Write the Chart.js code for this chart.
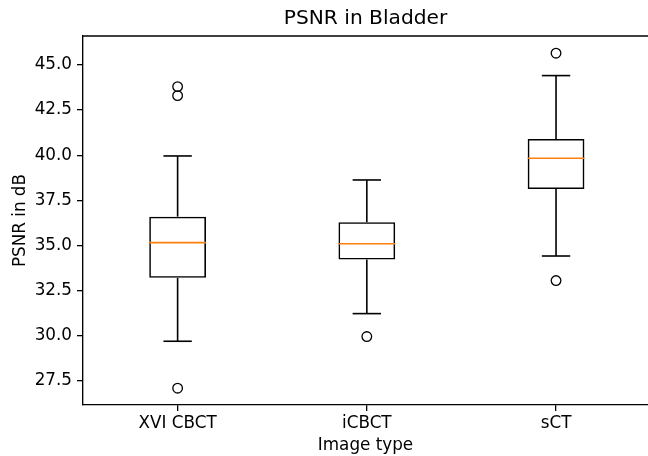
<!DOCTYPE html>
<html lang="en">
<head>
<meta charset="UTF-8" />
<title>PSNR in Bladder</title>
<script src="https://cdn.jsdelivr.net/npm/chart.js@4"></script>
<style>
  body { margin: 0; background: #fff; }
  #wrap { width: 648px; height: 456px; }
</style>
</head>
<body>
<div id="wrap"><canvas id="psnrChart" width="648" height="456"></canvas></div>
<script>
  // box plot summary (dB)
  const categories = ['XVI CBCT', 'iCBCT', 'sCT'];
  const positions = [1, 2, 3];
  const whiskerLow = [29.70, 31.23, 34.42];
  const q1 = [33.21, 34.22, 38.13];
  const median = [35.16, 35.10, 39.83];
  const q3 = [36.60, 36.29, 40.90];
  const whiskerHigh = [39.96, 38.63, 44.41];
  const outlierPos = [1, 1, 1, 2, 3, 3];
  const outlierVal = [43.80, 43.30, 27.10, 29.96, 45.65, 33.06];
  const yTicks = [27.5, 30, 32.5, 35, 37.5, 40, 42.5, 45];

  const font = 'DejaVu Sans';
  const lw = 1.6;

  // whiskers, caps, medians and the top spine
  const boxParts = {
    id: 'boxParts',
    afterDatasetsDraw(chart) {
      const { ctx, chartArea, scales: { x, y } } = chart;
      const bars = chart.getDatasetMeta(0).data;
      const seg = (x1, y1, x2, y2) => {
        ctx.beginPath(); ctx.moveTo(x1, y1); ctx.lineTo(x2, y2); ctx.stroke();
      };
      ctx.save();
      ctx.lineWidth = lw;
      ctx.strokeStyle = '#000';
      positions.forEach((p, i) => {
        const cx = x.getPixelForValue(p);
        const half = bars[i].width / 2;
        const cap = half / 2;
        const yLo = y.getPixelForValue(whiskerLow[i]);
        const yHi = y.getPixelForValue(whiskerHigh[i]);
        seg(cx, y.getPixelForValue(q1[i]), cx, yLo);
        seg(cx, y.getPixelForValue(q3[i]), cx, yHi);
        seg(cx - cap, yLo, cx + cap, yLo);
        seg(cx - cap, yHi, cx + cap, yHi);
      });
      ctx.strokeStyle = '#ff7f0e';
      positions.forEach((p, i) => {
        const cx = x.getPixelForValue(p);
        const half = bars[i].width / 2;
        const ym = y.getPixelForValue(median[i]);
        seg(cx - half, ym, cx + half, ym);
      });
      ctx.strokeStyle = '#000';
      ctx.lineWidth = 1.35;
      seg(chartArea.left, chartArea.top, chartArea.right, chartArea.top);
      ctx.restore();
    }
  };

  const axisStyle = {
    offset: false,
    grid: { display: true, offset: false, drawOnChartArea: false, drawTicks: true, tickLength: 6, color: '#000', lineWidth: 1.3 },
    border: { display: true, color: '#000', width: 1.35 }
  };

  new Chart(document.getElementById('psnrChart'), {
    type: 'bar',
    data: {
      datasets: [
        {
          type: 'bar',
          data: positions.map((p, i) => ({ x: p, y: [q1[i], q3[i]] })),
          backgroundColor: 'rgba(0,0,0,0)',
          borderColor: '#000',
          borderWidth: lw,
          borderSkipped: false,
          barPercentage: 0.3,
          categoryPercentage: 1
        },
        {
          type: 'scatter',
          data: outlierPos.map((p, i) => ({ x: p, y: outlierVal[i] })),
          pointRadius: 4.8,
          pointBackgroundColor: 'rgba(0,0,0,0)',
          pointBorderColor: '#000',
          pointBorderWidth: 1.3,
          showLine: false
        }
      ]
    },
    options: {
      responsive: false,
      animation: false,
      layout: { padding: 0, autoPadding: false },
      plugins: {
        legend: { display: false },
        tooltip: { enabled: false },
        title: {
          display: true,
          text: 'PSNR in Bladder',
          fullSize: false,
          color: '#000',
          font: { family: font, size: 20.2, weight: 'normal' },
          padding: { top: 7, bottom: 4.8 }
        }
      },
      scales: {
        x: {
          type: 'linear',
          min: 0.5,
          max: 3.486,
          ...axisStyle,
          afterBuildTicks: s => { s.ticks = positions.map(v => ({ value: v })); },
          afterFit: s => { s.height = 51; s.paddingRight = 0; s.paddingLeft = 0; },
          ticks: {
            color: '#000',
            font: { family: font, size: 16.8 },
            padding: 3,
            maxRotation: 0,
            autoSkip: false,
            callback: (v, i) => categories[i]
          },
          title: {
            display: true,
            text: 'Image type',
            color: '#000',
            font: { family: font, size: 16.8 },
            padding: { top: 0, bottom: 0 }
          }
        },
        y: {
          type: 'linear',
          min: 26.17,
          max: 46.6,
          ...axisStyle,
          afterBuildTicks: s => { s.ticks = yTicks.map(v => ({ value: v })); },
          afterFit: s => { s.width = 83; s.paddingTop = 0; s.paddingBottom = 0; },
          ticks: {
            color: '#000',
            font: { family: font, size: 16.8 },
            padding: 5,
            callback: v => v.toFixed(1)
          },
          title: {
            display: true,
            text: 'PSNR in dB',
            color: '#000',
            font: { family: font, size: 16.8 },
            padding: { top: 11, bottom: 0 }
          }
        }
      }
    },
    plugins: [boxParts]
  });
</script>
</body>
</html>
